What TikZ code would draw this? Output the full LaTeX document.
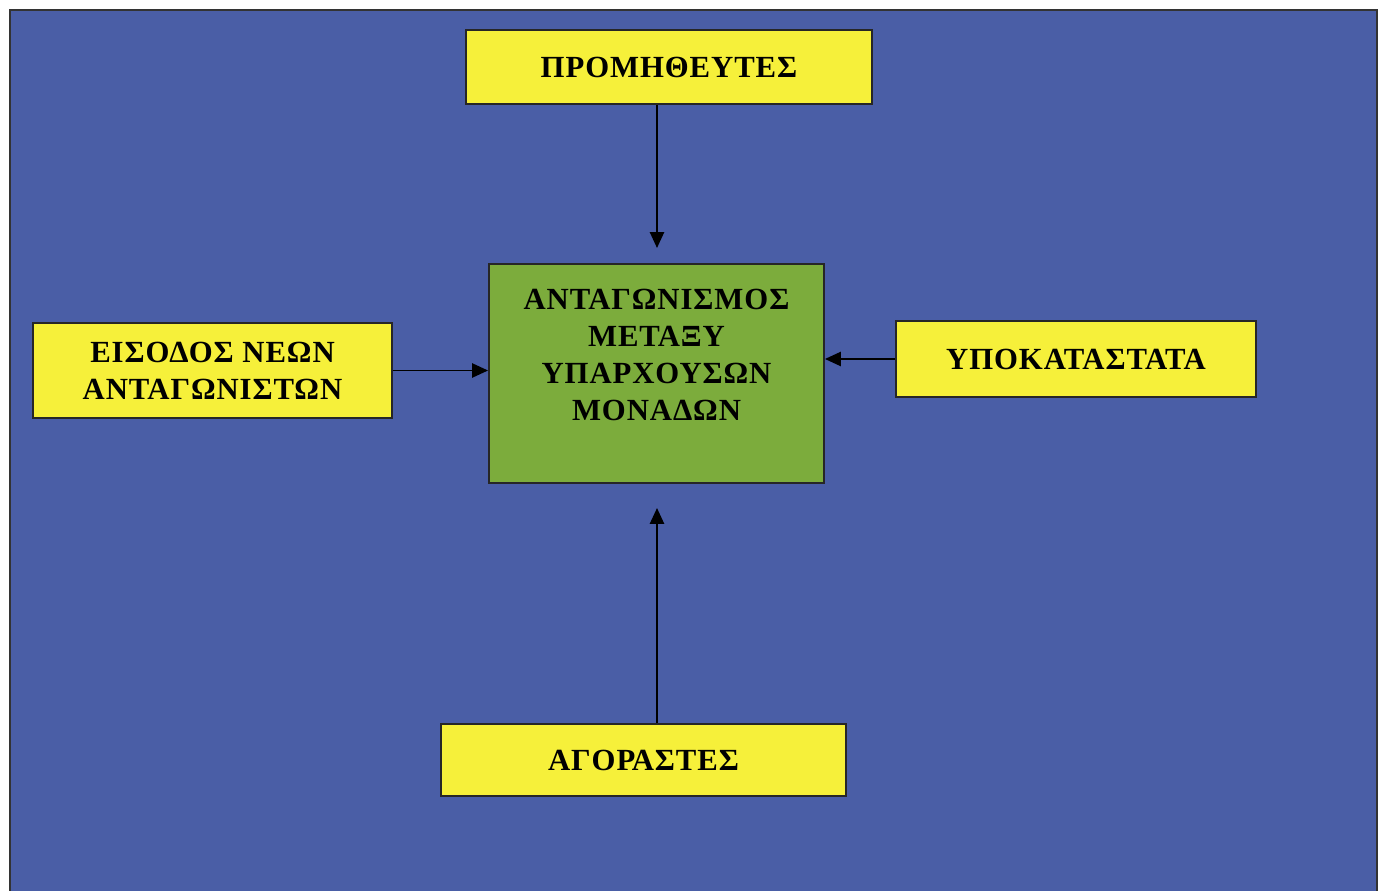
\documentclass[tikz,border=0pt]{standalone}
\usepackage{fontspec}
\setmainfont{Liberation Serif}[LetterSpace=3]
\usetikzlibrary{arrows.meta}
\definecolor{bgblue}{RGB}{74,94,166}
\definecolor{boxyellow}{RGB}{246,240,58}
\definecolor{boxgreen}{RGB}{124,172,60}
\begin{document}
\begin{tikzpicture}[x=0.02cm,y=-0.02cm]
        % Styles
        \tikzstyle{force box}=[draw=black!85,line width=1.1pt,fill=boxyellow,align=center,
            font=\fontsize{17.5}{21}\selectfont\bfseries,inner sep=0pt]
        \tikzstyle{main box}=[force box,fill=boxgreen]
        \tikzstyle{force arrow}=[line width=1.1pt,-{Triangle[length=9pt,width=8pt]}]
        %The graphic
        \useasboundingbox (0,0) rectangle (1383,891);
        %background
        \fill[bgblue] (10,10) rectangle (1377,891);
        \draw[line width=1.2pt,black!80] (10,891) -- (10,10) -- (1377,10) -- (1377,891);
        %boxes
        \node[main box,minimum width=335*0.02cm,minimum height=219*0.02cm] (comp) at (656.5,373.5)
            {ΑΝΤΑΓΩΝΙΣΜΟΣ\\ΜΕΤΑΞΥ\\ΥΠΑΡΧΟΥΣΩΝ\\ΜΟΝΑΔΩΝ\\ \mbox{}};
        \node[force box,minimum width=406*0.02cm,minimum height=74*0.02cm] (supp) at (669,67) {ΠΡΟΜΗΘΕΥΤΕΣ};
        \node[force box,minimum width=359*0.02cm,minimum height=95*0.02cm] (entry) at (212.5,370.5)
            {ΕΙΣΟΔΟΣ ΝΕΩΝ\\ΑΝΤΑΓΩΝΙΣΤΩΝ};
        \node[force box,minimum width=360*0.02cm,minimum height=76*0.02cm] (subst) at (1076,359) {ΥΠΟΚΑΤΑΣΤΑΤΑ};
        \node[force box,minimum width=405*0.02cm,minimum height=72*0.02cm] (buyers) at (643.5,760) {ΑΓΟΡΑΣΤΕΣ};
        %arrows
        \coordinate (top end) at (657,248);
        \coordinate (bottom end) at (657,508);
        \draw[force arrow] (supp.south -| top end) -- (top end);
        \draw[force arrow] (buyers.north -| bottom end) -- (bottom end);
        \draw[force arrow] (entry.east) -- (entry.east -| comp.west);
        \draw[force arrow] (subst.west) -- (subst.west -| comp.east);
    \end{tikzpicture}
\end{document}
